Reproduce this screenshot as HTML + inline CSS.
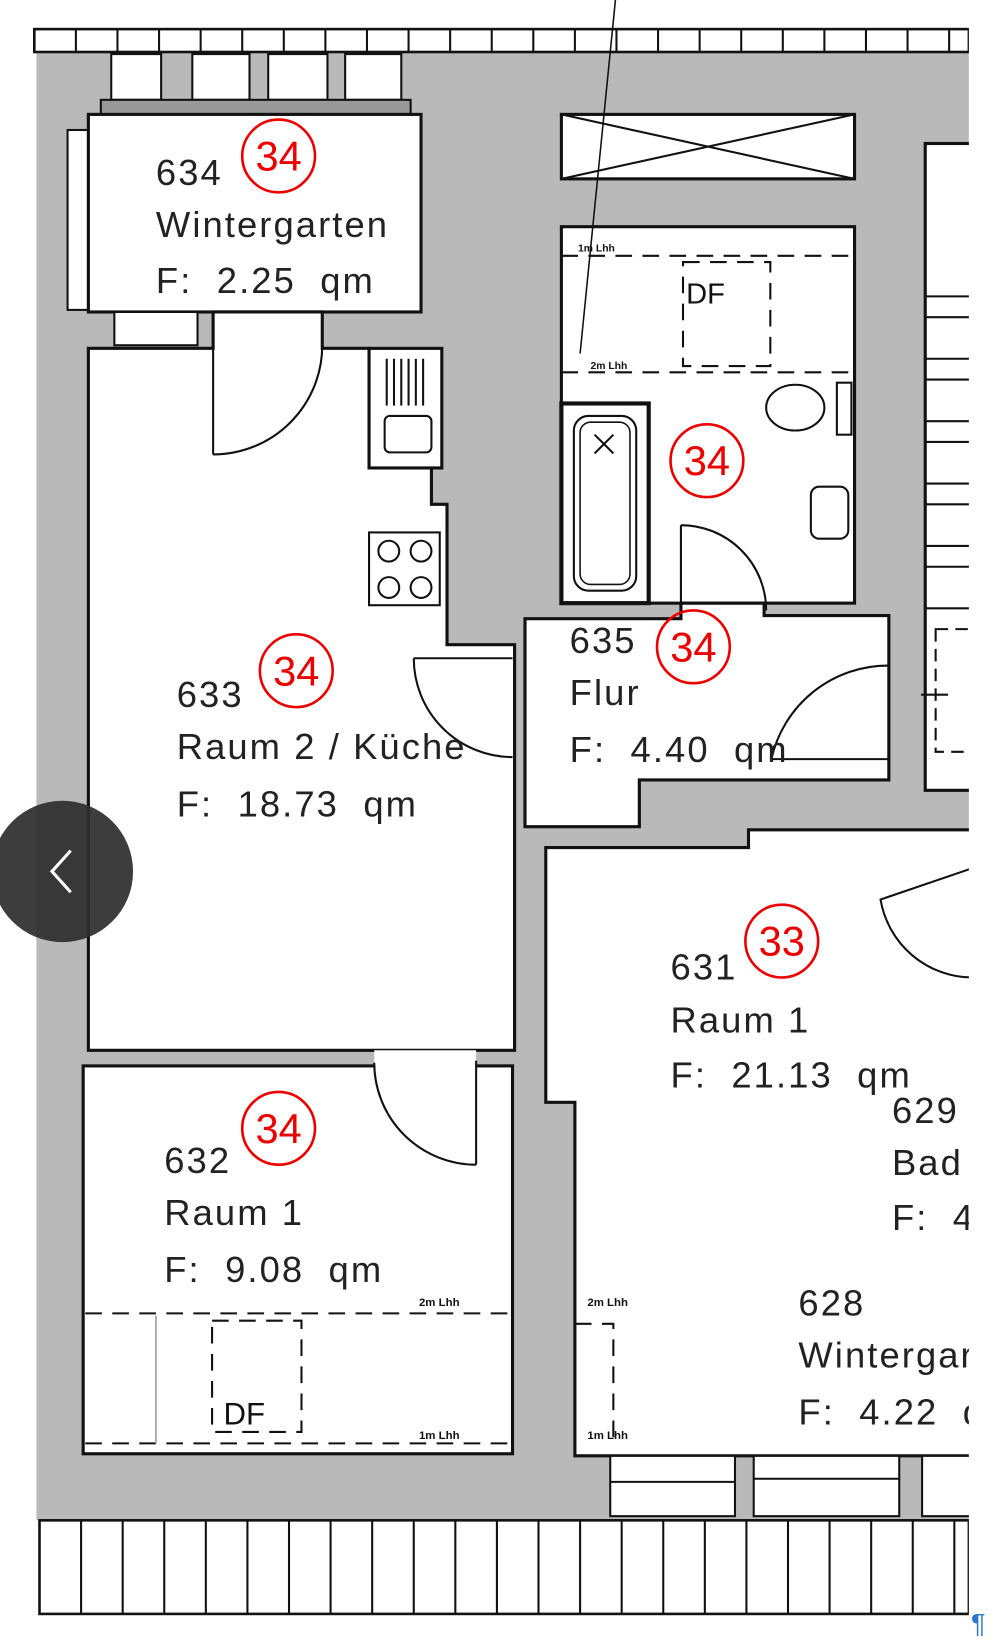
<!DOCTYPE html>
<html><head><meta charset="utf-8"><style>
html,body{margin:0;padding:0;background:#fff;overflow:hidden}
svg{display:block}
text{font-family:"Liberation Sans",sans-serif;white-space:pre}
</style></head><body>
<svg width="998" height="1642" viewBox="0 0 960 1579" preserveAspectRatio="none" xmlns="http://www.w3.org/2000/svg" xml:space="preserve">
<rect width="960" height="1579" fill="#fff"/>
<rect x="35" y="50" width="897" height="1412" fill="#b9b9b9"/>
<rect x="33" y="28" width="899" height="22" fill="#fff" stroke="#111" stroke-width="2.5"/>
<g stroke="#111" stroke-width="2">
<line x1="73" y1="28" x2="73" y2="50"/><line x1="113" y1="28" x2="113" y2="50"/><line x1="153" y1="28" x2="153" y2="50"/><line x1="193" y1="28" x2="193" y2="50"/><line x1="233" y1="28" x2="233" y2="50"/><line x1="273" y1="28" x2="273" y2="50"/><line x1="313" y1="28" x2="313" y2="50"/><line x1="353" y1="28" x2="353" y2="50"/><line x1="393" y1="28" x2="393" y2="50"/><line x1="433" y1="28" x2="433" y2="50"/><line x1="473" y1="28" x2="473" y2="50"/><line x1="513" y1="28" x2="513" y2="50"/><line x1="553" y1="28" x2="553" y2="50"/><line x1="593" y1="28" x2="593" y2="50"/><line x1="633" y1="28" x2="633" y2="50"/><line x1="673" y1="28" x2="673" y2="50"/><line x1="713" y1="28" x2="713" y2="50"/><line x1="753" y1="28" x2="753" y2="50"/><line x1="793" y1="28" x2="793" y2="50"/><line x1="833" y1="28" x2="833" y2="50"/><line x1="873" y1="28" x2="873" y2="50"/><line x1="913" y1="28" x2="913" y2="50"/>
</g>
<g fill="#fff" stroke="#111" stroke-width="2">
<rect x="107" y="52" width="48" height="44"/><rect x="185" y="52" width="55" height="44"/><rect x="258" y="52" width="57" height="44"/><rect x="332" y="52" width="54" height="44"/>
<rect x="97" y="96" width="298" height="14" fill="#999"/>
</g>
<rect x="65" y="125" width="22" height="173" fill="#fff" stroke="#111" stroke-width="2"/>
<rect x="85" y="110" width="320" height="190" fill="#fff" stroke="#111" stroke-width="3"/>
<rect x="110" y="300" width="80" height="32" fill="#fff" stroke="#111" stroke-width="2"/>
<path d="M85,335 H205 V300 H310 V335 H355 V450 H415 V485 H430 V620 H495 V1010 H85 Z" fill="#fff" stroke="#111" stroke-width="3"/>
<path d="M205,437 V335 M205,437 A105,105 0 0 0 310,332" fill="none" stroke="#111" stroke-width="2"/>
<rect x="355" y="335" width="70" height="115" fill="#fff" stroke="#111" stroke-width="3"/>
<g stroke="#111" stroke-width="2"><line x1="372" y1="345" x2="372" y2="390"/><line x1="379" y1="345" x2="379" y2="390"/><line x1="386" y1="345" x2="386" y2="390"/><line x1="393" y1="345" x2="393" y2="390"/><line x1="400" y1="345" x2="400" y2="390"/><line x1="407" y1="345" x2="407" y2="390"/></g>
<rect x="370" y="400" width="45" height="35" rx="5" fill="none" stroke="#111" stroke-width="2"/>
<rect x="355" y="512" width="68" height="70" fill="#fff" stroke="#111" stroke-width="2"/>
<g fill="none" stroke="#111" stroke-width="2"><circle cx="374" cy="530" r="10"/><circle cx="405" cy="530" r="10"/><circle cx="374" cy="565" r="10"/><circle cx="405" cy="565" r="10"/></g>
<rect x="80" y="1025" width="413" height="373" fill="#fff" stroke="#111" stroke-width="3"/>
<rect x="360" y="1010" width="98" height="18" fill="#fff"/>
<path d="M458,1120 V1020 M458,1120 A98,98 0 0 1 360,1022" fill="none" stroke="#111" stroke-width="2"/>
<g fill="none" stroke="#111" stroke-width="2" stroke-dasharray="16,10">
<line x1="82" y1="1263" x2="493" y2="1263"/><line x1="82" y1="1388" x2="493" y2="1388"/>
<rect x="204" y="1270" width="86" height="107"/>
</g>
<line x1="150" y1="1265" x2="150" y2="1388" stroke="#999" stroke-width="1.5"/>
<text x="215" y="1370" font-size="30" fill="#111">DF</text>
<text x="403" y="1256" font-size="11" font-weight="bold" fill="#111">2m Lhh</text>
<text x="403" y="1384" font-size="11" font-weight="bold" fill="#111">1m Lhh</text>
<rect x="540" y="110" width="282" height="62" fill="#fff" stroke="#111" stroke-width="3"/>
<path d="M540,110 L822,172 M540,172 L822,110" stroke="#111" stroke-width="2"/>
<rect x="540" y="218" width="282" height="362" fill="#fff" stroke="#111" stroke-width="3"/>
<g fill="none" stroke="#111" stroke-width="2" stroke-dasharray="16,10">
<line x1="540" y1="246" x2="822" y2="246"/><line x1="540" y1="358" x2="822" y2="358"/>
<rect x="657" y="252" width="84" height="100"/>
</g>
<text x="660" y="292" font-size="28" fill="#111">DF</text>
<text x="556" y="242" font-size="10" font-weight="bold" fill="#111">1m Lhh</text>
<text x="568" y="355" font-size="10" font-weight="bold" fill="#111">2m Lhh</text>
<rect x="540" y="388" width="84" height="192" fill="#fff" stroke="#111" stroke-width="4"/>
<rect x="552" y="400" width="60" height="168" rx="14" fill="none" stroke="#111" stroke-width="2"/>
<rect x="558" y="406" width="48" height="156" rx="10" fill="none" stroke="#111" stroke-width="1.5"/>
<path d="M572,418 L590,436 M590,418 L572,436" stroke="#111" stroke-width="2"/>
<ellipse cx="765" cy="392" rx="28" ry="22" fill="none" stroke="#111" stroke-width="2"/>
<rect x="805" y="368" width="14" height="50" fill="#fff" stroke="#111" stroke-width="2"/>
<rect x="780" y="468" width="36" height="50" rx="8" fill="none" stroke="#111" stroke-width="2"/>
<path d="M505,595 H655 V580 H735 V592 H855 V750 H615 V795 H505 Z" fill="#fff" stroke="#111" stroke-width="3"/>
<path d="M655,505 V590 M655,505 A82,82 0 0 1 737,587" fill="none" stroke="#111" stroke-width="2"/>
<path d="M398,633 H493 M398,633 A95,95 0 0 0 493,728" fill="none" stroke="#111" stroke-width="2"/>
<path d="M855,640 A115,115 0 0 0 742,730 H855" fill="none" stroke="#111" stroke-width="2"/>
<rect x="890" y="138" width="45" height="622" fill="#fff" stroke="#111" stroke-width="3"/>
<g stroke="#111" stroke-width="2"><line x1="890" y1="285" x2="935" y2="285"/><line x1="890" y1="305" x2="935" y2="305"/><line x1="890" y1="345" x2="935" y2="345"/><line x1="890" y1="365" x2="935" y2="365"/><line x1="890" y1="405" x2="935" y2="405"/><line x1="890" y1="425" x2="935" y2="425"/><line x1="890" y1="465" x2="935" y2="465"/><line x1="890" y1="485" x2="935" y2="485"/><line x1="890" y1="525" x2="935" y2="525"/><line x1="890" y1="545" x2="935" y2="545"/><line x1="890" y1="585" x2="935" y2="585"/></g>
<rect x="900" y="605" width="40" height="118" fill="none" stroke="#111" stroke-width="2" stroke-dasharray="12,7"/>
<line x1="886" y1="668" x2="912" y2="668" stroke="#111" stroke-width="2"/>
<path d="M525,815 H720 V798 H935 V1400 H553 V1060 H525 Z" fill="#fff" stroke="#111" stroke-width="3"/>
<path d="M935,940 A90,90 0 0 1 847,865 L935,835" fill="none" stroke="#111" stroke-width="2"/>
<g fill="none" stroke="#111" stroke-width="2" stroke-dasharray="16,10"><path d="M553,1273 H590 V1390"/></g>
<text x="565" y="1256" font-size="11" font-weight="bold" fill="#111">2m Lhh</text>
<text x="565" y="1384" font-size="11" font-weight="bold" fill="#111">1m Lhh</text>
<g fill="#fff" stroke="#111" stroke-width="2"><rect x="587" y="1400" width="120" height="58"/><rect x="725" y="1400" width="140" height="58"/><rect x="887" y="1400" width="48" height="58"/><line x1="587" y1="1425" x2="707" y2="1425"/><line x1="725" y1="1422" x2="865" y2="1422"/></g>
<rect x="38" y="1462" width="894" height="90" fill="#fff" stroke="#111" stroke-width="2.5"/>
<g stroke="#111" stroke-width="2">
<line x1="78" y1="1462" x2="78" y2="1552"/><line x1="118" y1="1462" x2="118" y2="1552"/><line x1="158" y1="1462" x2="158" y2="1552"/><line x1="198" y1="1462" x2="198" y2="1552"/><line x1="238" y1="1462" x2="238" y2="1552"/><line x1="278" y1="1462" x2="278" y2="1552"/><line x1="318" y1="1462" x2="318" y2="1552"/><line x1="358" y1="1462" x2="358" y2="1552"/><line x1="398" y1="1462" x2="398" y2="1552"/><line x1="438" y1="1462" x2="438" y2="1552"/><line x1="478" y1="1462" x2="478" y2="1552"/><line x1="518" y1="1462" x2="518" y2="1552"/><line x1="558" y1="1462" x2="558" y2="1552"/><line x1="598" y1="1462" x2="598" y2="1552"/><line x1="638" y1="1462" x2="638" y2="1552"/><line x1="678" y1="1462" x2="678" y2="1552"/><line x1="718" y1="1462" x2="718" y2="1552"/><line x1="758" y1="1462" x2="758" y2="1552"/><line x1="798" y1="1462" x2="798" y2="1552"/><line x1="838" y1="1462" x2="838" y2="1552"/><line x1="878" y1="1462" x2="878" y2="1552"/><line x1="918" y1="1462" x2="918" y2="1552"/>
</g>
<rect x="932" y="0" width="28" height="1579" fill="#fff"/>
<line x1="592" y1="0" x2="558" y2="340" stroke="#111" stroke-width="1.5"/>
<g font-size="35" fill="#222" letter-spacing="2">
<text x="150" y="178">634</text><text x="150" y="228">Wintergarten</text><text x="150" y="282">F:  2.25  qm</text>
<text x="170" y="680">633</text><text x="170" y="730">Raum 2 / Küche</text><text x="170" y="785">F:  18.73  qm</text>
<text x="548" y="628">635</text><text x="548" y="678">Flur</text><text x="548" y="733">F:  4.40  qm</text>
<text x="645" y="942">631</text><text x="645" y="993">Raum 1</text><text x="645" y="1046">F:  21.13  qm</text>
<text x="858" y="1080">629</text><text x="858" y="1130">Bad</text><text x="858" y="1183">F:  4</text>
<text x="158" y="1128">632</text><text x="158" y="1178">Raum 1</text><text x="158" y="1233">F:  9.08  qm</text>
<text x="768" y="1265">628</text><text x="768" y="1315">Wintergarten</text><text x="768" y="1370">F:  4.22  qm</text>
</g>
<rect x="932" y="1040" width="28" height="360" fill="#fff"/>
<g fill="none" stroke="#e00" stroke-width="2.5">
<circle cx="268" cy="150" r="35"/><circle cx="285" cy="645" r="35"/><circle cx="680" cy="443" r="35"/><circle cx="667" cy="622" r="35"/><circle cx="752" cy="905" r="35"/><circle cx="268" cy="1085" r="35"/>
</g>
<g font-size="40" fill="#e00" text-anchor="middle">
<text x="268" y="164">34</text><text x="285" y="659">34</text><text x="680" y="457">34</text><text x="667" y="636">34</text><text x="752" y="919">33</text><text x="268" y="1099">34</text>
</g>
<circle cx="60" cy="838" r="68" fill="#2e2e2e" opacity="0.93"/>
<path d="M68,818 L50,838 L68,858" fill="none" stroke="#fff" stroke-width="3"/>
<text x="934" y="1570" font-size="26" fill="#2a7ad5">¶</text>
</svg>
</body></html>
